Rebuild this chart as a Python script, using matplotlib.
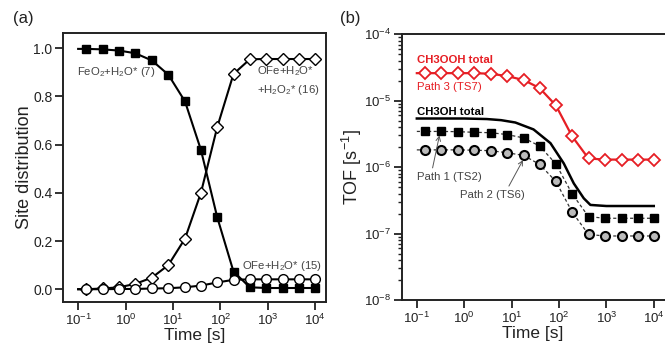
import numpy as np
import matplotlib
matplotlib.use("Agg")
import matplotlib.pyplot as plt
from matplotlib.ticker import LogLocator, NullFormatter, NullLocator

plt.rcParams['font.family'] = ['Liberation Sans', 'DejaVu Sans']
plt.rcParams['mathtext.default'] = 'regular'

# sampling times of the markers [s]
t = [0.15, 0.33, 0.73, 1.6, 3.6, 8, 18, 39, 86, 190, 420, 940, 2100, 4600, 10000]
t_line = [0.1] + t

# (a) site distribution
fe_o2 = [0.997, 0.995, 0.99, 0.979, 0.949, 0.89, 0.779, 0.578, 0.299, 0.073, 0.008, 0.005, 0.005, 0.005, 0.005]
ofe_h2o2 = [0.0, 0.003, 0.008, 0.022, 0.048, 0.10, 0.21, 0.40, 0.672, 0.893, 0.954, 0.955, 0.955, 0.955, 0.955]
ofe_h2o = [0.0, 0.0, 0.001, 0.001, 0.003, 0.004, 0.008, 0.015, 0.028, 0.039, 0.041, 0.041, 0.041, 0.041, 0.041]

# (b) TOF
ch3ooh = [2.6e-5, 2.6e-5, 2.6e-5, 2.6e-5, 2.55e-5, 2.35e-5, 2.05e-5, 1.55e-5, 8.5e-6, 2.9e-6, 1.35e-6, 1.3e-6, 1.3e-6, 1.3e-6, 1.3e-6]
path1 = [3.45e-6, 3.45e-6, 3.42e-6, 3.35e-6, 3.3e-6, 3.1e-6, 2.75e-6, 2.08e-6, 1.12e-6, 3.95e-7, 1.8e-7, 1.7e-7, 1.7e-7, 1.7e-7, 1.7e-7]
path2 = [1.82e-6, 1.82e-6, 1.82e-6, 1.8e-6, 1.77e-6, 1.65e-6, 1.5e-6, 1.1e-6, 6.1e-7, 2.1e-7, 9.7e-8, 9.2e-8, 9.2e-8, 9.2e-8, 9.2e-8]
t_total = [0.1, 1, 3, 6, 12, 29, 66, 126, 205, 333, 460, 1000, 10000]
ch3oh_total = [5.4e-6, 5.4e-6, 5.3e-6, 5.1e-6, 4.7e-6, 3.7e-6, 2.3e-6, 1.14e-6, 5.7e-7, 3.4e-7, 2.7e-7, 2.6e-7, 2.6e-7]

red = '#e61e24'
dark = '#222222'
txt = '#444444'

fig = plt.figure(figsize=(6.65, 3.49), dpi=100)
ax1 = fig.add_axes([0.0947, 0.1347, 0.3955, 0.7708])
ax2 = fig.add_axes([0.604, 0.1404, 0.3955, 0.7613])


def style(ax):
    for s in ax.spines.values():
        s.set_linewidth(1.4)
        s.set_color(dark)
    ax.set_xscale('log')
    ax.set_xlim(10 ** -1.32, 10 ** 4.23)
    ax.xaxis.set_minor_locator(NullLocator())
    ax.set_xticks([0.1, 1, 10, 100, 1000, 10000])
    ax.set_xticklabels(['$10^{-1}$', '$10^{0}$', '$10^{1}$', '$10^{2}$', '$10^{3}$', '$10^{4}$'])
    ax.tick_params(which='major', direction='out', length=6, width=1.3, color=dark,
                   labelsize=9.5, labelcolor=dark, pad=1.5)
    ax.set_xlabel('Time [s]', fontsize=12.5, color=dark, labelpad=0)


# ---- (a)
style(ax1)
ax1.plot(t_line, [fe_o2[0]] + fe_o2, color='black', lw=1.5)
ax1.plot(t_line, [ofe_h2o2[0]] + ofe_h2o2, color='black', lw=1.5)
ax1.plot(t_line, [ofe_h2o[0]] + ofe_h2o, color='black', lw=1.5)
ax1.plot(t, fe_o2, ls='none', marker='s', ms=6, mfc='black', mec='black')
ax1.plot(t, ofe_h2o2, ls='none', marker='D', ms=6, mfc='white', mec='black', mew=1.0)
ax1.plot(t, ofe_h2o, ls='none', marker='o', ms=7, mfc='white', mec='black', mew=1.0)
ax1.set_ylim(-0.053, 1.063)
ax1.set_yticks([0.0, 0.2, 0.4, 0.6, 0.8, 1.0])
ax1.set_yticklabels(['0.0', '0.2', '0.4', '0.6', '0.8', '1.0'])
ax1.tick_params(axis='y', labelsize=10)
ax1.set_ylabel('Site distribution', fontsize=13, color=dark, labelpad=0)

ax1.text(0.094, 0.903, 'FeO$_2$+H$_2$O* (7)', fontsize=8.2, color=txt, ha='left', va='center')
ax1.text(589, 0.903, 'OFe+H$_2$O*', fontsize=8.2, color=txt, ha='left', va='center')
ax1.text(600, 0.827, '+H$_2$O$_2$* (16)', fontsize=8.2, color=txt, ha='left', va='center')
ax1.text(13800, 0.097, 'OFe+H$_2$O* (15)', fontsize=8.2, color=txt, ha='right', va='center')

# ---- (b)
style(ax2)
ax2.spines['right'].set_visible(False)
ax2.set_yscale('log')
ax2.set_ylim(1e-8, 1e-4)
ax2.yaxis.set_major_locator(LogLocator(base=10, numticks=10))
ax2.yaxis.set_minor_locator(LogLocator(base=10, subs=np.arange(2, 10), numticks=10))
ax2.yaxis.set_minor_formatter(NullFormatter())
ax2.tick_params(axis='y', which='minor', direction='out', length=3, width=1.0, color=dark)
ax2.tick_params(axis='y', which='major', labelsize=9.5)
ax2.set_ylabel('TOF [s$^{-1}$]', fontsize=13, color=dark, labelpad=0)

ax2.plot(t_line, [ch3ooh[0]] + ch3ooh, color=red, lw=1.6)
ax2.plot(t, ch3ooh, ls='none', marker='D', ms=6, mfc='white', mec=red, mew=1.3)
ax2.plot(t_total, ch3oh_total, color='black', lw=1.8)
ax2.plot(t_line, [path1[0]] + path1, color='#333333', lw=0.9, ls=(0, (2.5, 2)))
ax2.plot(t, path1, ls='none', marker='s', ms=6, mfc='black', mec='black')
ax2.plot(t_line, [path2[0]] + path2, color='#333333', lw=0.9, ls=(0, (2.5, 2)))
ax2.plot(t, path2, ls='none', marker='o', ms=6.5, mfc='#bbbbbb', mec='black', mew=1.5)

ax2.text(0.1, 4.1e-5, 'CH3OOH total', fontsize=8.2, color=red, fontweight='bold', ha='left', va='center')
ax2.text(0.1, 1.6e-5, 'Path 3 (TS7)', fontsize=8.2, color=red, ha='left', va='center')
ax2.text(0.1, 6.8e-6, 'CH3OH total', fontsize=8.2, color='black', fontweight='bold', ha='left', va='center')
ax2.annotate('Path 1 (TS2)', xy=(0.30, 3.0e-6), xytext=(0.1, 7.1e-7), fontsize=8.2, color=txt,
             ha='left', va='center',
             arrowprops=dict(arrowstyle='->', color='#555555', lw=0.7, shrinkA=1, shrinkB=0,
                             relpos=(0.23, 1.0)))
ax2.annotate('Path 2 (TS6)', xy=(17.4, 1.28e-6), xytext=(0.82, 3.8e-7), fontsize=8.2, color=txt,
             ha='left', va='center',
             arrowprops=dict(arrowstyle='->', color='#555555', lw=0.7, shrinkA=1, shrinkB=0,
                             relpos=(0.72, 1.0)))

fig.text(0.0195, 0.948, '(a)', fontsize=12, color=dark, ha='left', va='center')
fig.text(0.511, 0.948, '(b)', fontsize=12, color=dark, ha='left', va='center')

fig.savefig('out.png', dpi=100)
